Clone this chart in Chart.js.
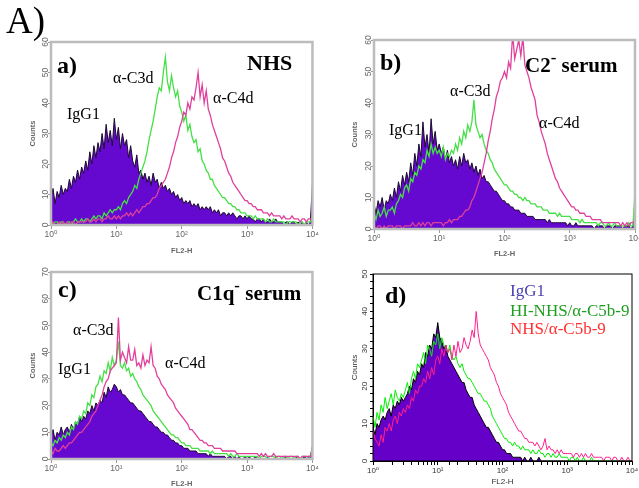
<!DOCTYPE html>
<html>
<head>
<meta charset="utf-8">
<script src="https://cdn.jsdelivr.net/npm/chart.js@4.4.0/dist/chart.umd.min.js"></script>
<style>
  html, body { margin: 0; padding: 0; background: #fff; }
  #fig { position: relative; width: 639px; height: 488px; overflow: hidden; background: #fff; }
  .panel { position: absolute; }
  .lbl { position: absolute; font-family: "Times New Roman", "Liberation Serif", serif; line-height: 1; white-space: nowrap; color: #000; }
  .b { font-weight: bold; }
  .sup { position: relative; top: -0.55em; font-size: 0.8em; }
</style>
</head>
<body>
<div id="fig">
  <div class="panel" style="left:14px;top:34px;"><canvas id="pa" width="306" height="226"></canvas></div>
  <div class="panel" style="left:337px;top:32px;"><canvas id="pb" width="310" height="228"></canvas></div>
  <div class="panel" style="left:14px;top:264px;"><canvas id="pc" width="306" height="228"></canvas></div>
  <div class="panel" style="left:336px;top:266px;"><canvas id="pd" width="310" height="226"></canvas></div>

  <div class="lbl" style="left:6px;top:2px;font-size:37px;">A)</div>

  <div class="lbl b" style="left:57px;top:53px;font-size:24px;">a)</div>
  <div class="lbl b" style="left:247px;top:52px;font-size:22px;">NHS</div>
  <div class="lbl" style="left:113px;top:70px;font-size:16px;">α-C3d</div>
  <div class="lbl" style="left:67px;top:106px;font-size:16px;">IgG1</div>
  <div class="lbl" style="left:213px;top:90px;font-size:16px;">α-C4d</div>

  <div class="lbl b" style="left:380px;top:50px;font-size:24px;">b)</div>
  <div class="lbl b" style="left:525px;top:55px;font-size:21px;">C2<span class="sup">-</span> serum</div>
  <div class="lbl" style="left:450px;top:83px;font-size:16px;">α-C3d</div>
  <div class="lbl" style="left:389px;top:122px;font-size:16px;">IgG1</div>
  <div class="lbl" style="left:539px;top:115px;font-size:16px;">α-C4d</div>

  <div class="lbl b" style="left:58px;top:277px;font-size:24px;">c)</div>
  <div class="lbl b" style="left:197px;top:283px;font-size:21px;">C1q<span class="sup">-</span> serum</div>
  <div class="lbl" style="left:73px;top:322px;font-size:16px;">α-C3d</div>
  <div class="lbl" style="left:58px;top:361px;font-size:16px;">IgG1</div>
  <div class="lbl" style="left:165px;top:355px;font-size:16px;">α-C4d</div>

  <div class="lbl b" style="left:385px;top:283px;font-size:24px;">d)</div>
  <div class="lbl" style="left:510px;top:282px;font-size:17px;color:#4a3fb0;">IgG1</div>
  <div class="lbl" style="left:510px;top:302px;font-size:17px;color:#1e9e1e;">HI-NHS/α-C5b-9</div>
  <div class="lbl" style="left:510px;top:320px;font-size:17px;color:#ff3030;">NHS/α-C5b-9</div>
</div>

<script>
'use strict';

// FL2-H channels: 32 bins per decade, 10^0 .. 10^4
const DECADES = 4;
const BINS_PER_DECADE = 32;
const fl2 = [];
for (let i = 0; i <= DECADES * BINS_PER_DECADE; i++) fl2.push(Math.pow(10, i / BINS_PER_DECADE));

// a) NHS  (counts per channel, read off the histogram)
const aIgG1 = [9,12,7,11,9,13,10,12, 11,15,12,16,14,18,15,19, 17,21,18,24,20,26,22,27, 24,30,25,33,27,31,26,35,
  28,32,25,30,26,28,22,26, 21,19,23,17,18,15,17,14, 16,13,17,14,15,12,14,12, 13,11,12,10,11,9,10,8,
  9,7,8,7,8,6,7,6, 7,5,6,5,6,5,6,4, 5,4,5,3,4,4,3,4, 3,4,3,2,3,3,2,3,
  2,3,2,2,1,2,2,1, 2,1,1,2,1,1,2,1, 1,1,0,1,1,0,1,1, 0,1,0,1,0,1,0,1, 14];
const aC3d = [1,0,1,1,0,1,1,0, 1,1,0,1,2,1,1,2, 1,2,2,1,2,3,2,3, 3,2,4,3,4,5,4,5,
  5,6,5,7,8,7,9,10, 11,13,12,15,17,19,21,24, 28,31,34,38,42,45,44,50, 55,47,44,49,45,42,44,39,
  37,34,36,31,33,29,27,28, 24,25,21,20,18,17,15,15, 13,12,11,10,9,9,8,7, 7,6,6,5,5,4,4,4,
  3,3,3,2,3,2,2,2, 2,1,2,1,1,2,1,1, 1,1,1,0,1,1,1,1, 1,0,1,1,0,1,1,1, 3];
const aC4d = [0,1,0,0,1,0,1,0, 1,0,1,1,0,1,1,1, 1,1,2,1,1,2,1,2, 2,1,2,2,3,2,2,3,
  2,3,2,3,3,4,3,4, 3,4,5,4,5,6,6,7, 7,8,9,9,10,12,13,14, 15,17,19,22,24,27,29,32,
  34,37,36,40,38,42,41,45, 50,42,46,40,44,38,36,33, 31,29,27,25,22,21,19,17, 16,14,13,12,11,10,9,8,
  8,7,7,6,6,5,5,5, 4,4,4,3,4,3,3,3, 3,2,3,2,2,2,3,2, 2,2,1,2,2,1,2,2, 2];

// b) C2- serum
const bIgG1 = [8,5,9,7,10,6,9,8, 11,9,13,10,15,12,17,14, 18,15,21,17,24,20,27,23, 34,26,30,24,35,27,31,25,
  27,24,26,22,25,21,23,20, 22,19,23,20,24,21,22,19, 21,18,20,17,19,16,17,15, 15,14,13,12,12,11,10,9,
  9,8,8,7,7,6,6,6, 5,5,5,4,4,4,4,3, 3,3,3,3,3,2,3,2, 2,2,2,2,2,2,2,1,
  2,1,1,2,1,1,1,1, 1,1,1,1,0,1,1,1, 1,0,1,1,1,0,1,1, 1,1,0,1,1,1,0,1, 5];
const bC3d = [5,3,6,4,5,7,4,6, 6,7,5,8,9,11,10,13, 14,12,16,15,18,17,20,19, 22,21,25,23,27,24,26,24,
  25,23,26,22,24,23,25,24, 27,25,29,27,31,29,33,31, 34,41,33,31,29,30,27,25, 24,22,21,19,18,17,16,15,
  14,14,13,12,12,11,11,10, 10,9,10,9,9,8,8,8, 7,7,7,6,6,6,5,5, 5,5,4,5,4,4,4,4,
  4,3,3,3,3,2,3,2, 2,2,2,2,2,2,1,2, 2,1,1,2,1,1,2,1, 1,1,1,1,1,2,1,1, 12];
const bC4d = [1,0,1,1,0,1,0,1, 1,1,0,1,1,1,0,1, 1,1,1,2,1,1,2,1, 2,1,2,2,1,2,2,2,
  2,2,1,2,2,3,2,3, 3,3,4,4,5,6,6,7, 9,10,12,14,16,18,21,24, 28,31,35,38,42,44,47,48,
  50,48,53,51,62,54,57,60, 55,61,52,50,48,45,43,41, 36,34,31,29,27,24,22,20, 18,16,15,13,12,11,10,9,
  8,7,7,6,6,5,5,5, 4,4,4,3,3,3,3,3, 2,2,2,2,2,2,2,2, 2,1,2,1,2,1,2,2, 3];

// c) C1q- serum
const cIgG1 = [8,11,7,10,9,12,9,11, 12,10,13,11,14,13,16,14, 16,15,18,17,20,18,21,20, 22,21,25,23,27,25,26,28,
  27,25,26,24,24,23,22,21, 21,20,19,18,18,17,16,15, 14,14,13,12,12,11,10,10, 9,9,8,7,7,6,6,5,
  5,4,4,4,3,3,3,3, 2,2,2,2,2,1,2,1, 1,1,1,1,1,1,0,1, 1,0,1,0,1,0,0,1,
  0,1,0,0,1,0,0,0, 0,0,1,0,0,0,1,0, 0,0,0,1,0,0,0,0, 1,0,0,0,1,0,1,1, 5];
const cC3d = [6,5,7,6,8,7,9,8, 10,9,12,11,14,13,16,15, 18,17,21,20,24,23,27,28, 31,29,33,32,36,33,38,35,
  37,44,35,34,36,33,34,31, 32,30,29,27,26,24,23,22, 21,20,18,17,16,15,14,13, 12,11,10,9,9,8,8,7,
  6,6,5,5,5,4,4,4, 4,3,3,3,3,3,2,3, 2,2,2,2,2,2,2,1, 2,1,1,2,1,1,1,1,
  1,1,1,1,1,1,0,1, 1,1,0,1,1,1,0,1, 1,0,1,1,0,1,1,0, 1,1,0,1,1,1,0,1, 4];
const cC4d = [3,2,4,3,3,4,5,4, 5,6,6,7,8,9,10,10, 11,12,13,14,16,17,18,20, 22,24,27,29,30,33,34,35,
  36,53,37,40,38,36,42,37, 37,41,35,36,34,39,35,37, 36,42,35,34,31,30,28,27, 26,24,23,22,21,19,18,17,
  16,15,14,13,11,11,10,9, 8,7,7,6,6,5,5,5, 4,4,4,4,3,3,3,3, 3,3,3,2,2,2,2,2,
  2,2,2,2,2,2,1,2, 1,2,1,1,1,2,1,1, 1,1,1,1,1,1,1,1, 1,1,0,1,1,1,1,1, 3];

// d) C5b-9
const dIgG1 = [9,7,10,9,11,12,11,13, 14,12,15,14,16,15,17,16, 17,18,20,19,22,21,24,23, 26,25,29,28,31,30,34,33,
  37,33,32,30,31,28,27,26, 25,24,23,22,21,21,19,18, 17,17,15,14,13,12,11,10, 9,9,8,7,6,5,5,4,
  3,3,2,2,2,1,1,1, 1,1,0,1,0,0,1,0, 0,0,1,0,0,0,0,0, 0,0,0,0,0,0,0,0,
  0,0,0,0,0,0,0,0, 0,0,0,0,0,0,0,0, 0,0,0,0,0,0,0,0, 0,0,0,0,0,0,0,0, 0];
const dHiNhs = [12,9,13,11,15,13,17,14, 16,18,15,19,17,16,18,17, 19,21,18,22,24,22,26,25, 27,29,26,31,30,28,32,31,
  34,30,33,31,30,29,31,28, 27,28,26,25,26,24,23,22, 22,21,20,19,18,18,17,16, 16,15,14,12,11,10,9,8,
  7,6,6,5,5,4,5,4, 4,3,4,3,3,3,2,3, 2,2,3,2,2,1,2,2, 1,2,1,1,2,1,1,1,
  1,0,1,1,0,1,0,0, 1,0,0,0,1,0,0,0, 0,0,0,0,0,0,0,0, 0,0,0,0,0,0,0,0, 0];
const dNhs = [8,6,5,4,7,5,9,8, 10,8,11,12,10,13,12,14, 13,15,14,17,16,19,18,20, 20,22,21,24,22,25,23,27,
  28,26,30,28,31,29,30,27, 31,28,32,29,30,33,31,30, 32,35,33,40,34,31,30,29, 28,27,25,24,23,21,20,18,
  17,16,15,13,12,11,10,9, 8,8,7,6,6,5,5,5, 4,5,4,3,4,6,3,4, 3,3,2,3,2,3,2,2,
  2,2,2,1,2,2,1,2, 1,2,1,1,2,1,1,1, 1,1,0,1,1,1,0,1, 1,0,0,1,0,0,1,0, 0];

const SUP = ['⁰', '¹', '²', '³', '⁴'];
function decadeLabel(v) {
  const e = Math.round(Math.log10(v));
  return Math.abs(v - Math.pow(10, e)) < 1e-6 ? '10' + SUP[e] : '';
}

// gray or black box round the plot area
const framePlugin = {
  id: 'frame',
  afterDatasetsDraw(chart, args, o) {
    const {ctx, chartArea: a} = chart;
    ctx.save();
    ctx.strokeStyle = o.color;
    ctx.lineWidth = o.width;
    ctx.strokeRect(a.left, a.top, a.right - a.left, a.bottom - a.top);
    ctx.restore();
  }
};

const SANS = 'Arial, "Liberation Sans", "DejaVu Sans", sans-serif';

function makePanel(id, p) {
  const datasets = p.series.map(s => ({
    data: s.values.map((v, i) => ({x: fl2[i], y: v})),
    borderColor: s.line,
    borderWidth: s.width,
    backgroundColor: s.fill || 'rgba(0,0,0,0)',
    fill: s.fill ? 'origin' : false,
    pointRadius: 0,
    tension: 0,
    order: s.order
  }));
  const tickFont = {family: SANS, size: p.tickSize};
  const titleFont = {family: SANS, size: p.titleSize, weight: p.titleWeight};

  return new Chart(document.getElementById(id), {
    type: 'line',
    data: {datasets: datasets},
    options: {
      responsive: false,
      animation: false,
      events: [],
      layout: {padding: {top: p.padTop, right: p.padRight, bottom: 0, left: 0}},
      plugins: {legend: {display: false}, tooltip: {enabled: false}, frame: p.frame},
      scales: {
        x: {
          type: 'logarithmic', min: 1, max: 10000,
          afterBuildTicks: s => { if (!p.minorX) s.ticks = s.ticks.filter(t => decadeLabel(t.value)); },
          afterFit: s => { s.height = p.xHeight; },
          ticks: {autoSkip: false, minRotation: 0, maxRotation: 0, padding: 1,
                  color: p.textColor, font: tickFont, callback: v => decadeLabel(v)},
          grid: {drawOnChartArea: false, drawTicks: true, tickLength: 4, tickColor: p.tickColor},
          border: {display: true, color: p.tickColor, width: 1},
          title: {display: true, text: 'FL2-H', color: p.textColor, font: titleFont,
                  padding: {top: 0, bottom: p.fl2Pad}}
        },
        y: {
          min: 0, max: p.yMax,
          afterFit: s => { s.width = p.yWidth; },
          ticks: {stepSize: p.yStep, autoSkip: false, minRotation: 90, maxRotation: 90, crossAlign: 'center',
                  padding: p.yTickPad, color: p.textColor, font: tickFont,
                  callback: v => (v % 10 === 0 ? v : '')},
          grid: {drawOnChartArea: false, drawTicks: true, tickLength: 3, tickColor: p.tickColor},
          border: {display: true, color: p.tickColor, width: 1},
          title: {display: true, text: 'Counts', color: p.textColor, font: titleFont,
                  padding: {top: p.countsPad, bottom: 0}}
        }
      }
    },
    plugins: [framePlugin]
  });
}

const faint = {
  tickSize: 8.5, titleSize: 7.5, titleWeight: 'bold', textColor: '#666', tickColor: '#999',
  frame: {color: '#bcbcbc', width: 2.5}, yStep: 10, yTickPad: -2, minorX: false
};
function trio(igg, c3, c4) {
  return [
    {values: igg, fill: '#6508d0', line: '#1c0a30', width: 1, order: 3},
    {values: c3, line: '#45e045', width: 1.3, order: 2},
    {values: c4, line: '#e0409c', width: 1.3, order: 1}
  ];
}

makePanel('pa', Object.assign({}, faint, {
  series: trio(aIgG1, aC3d, aC4d), yMax: 60,
  padTop: 8, padRight: 7, yWidth: 37, xHeight: 35, fl2Pad: 5, countsPad: 14
}));
makePanel('pb', Object.assign({}, faint, {
  series: trio(bIgG1, bC3d, bC4d), yMax: 60,
  padTop: 8, padRight: 12, yWidth: 37, xHeight: 31, fl2Pad: 2, countsPad: 13
}));
makePanel('pc', Object.assign({}, faint, {
  series: trio(cIgG1, cC3d, cC4d), yMax: 70,
  padTop: 8, padRight: 7, yWidth: 37, xHeight: 33, fl2Pad: 4, countsPad: 14
}));
makePanel('pd', {
  series: [
    {values: dIgG1, fill: '#6400c8', line: '#000000', width: 1, order: 3},
    {values: dHiNhs, line: '#00ee00', width: 1, order: 2},
    {values: dNhs, line: '#ff2090', width: 1, order: 1}
  ],
  yMax: 50, yStep: 2, yTickPad: 1, minorX: true,
  tickSize: 8, titleSize: 8, titleWeight: 'normal', textColor: '#333', tickColor: '#000',
  frame: {color: '#000', width: 1},
  padTop: 8, padRight: 14, yWidth: 37, xHeight: 31, fl2Pad: 5, countsPad: 14
});
</script>
</body>
</html>
